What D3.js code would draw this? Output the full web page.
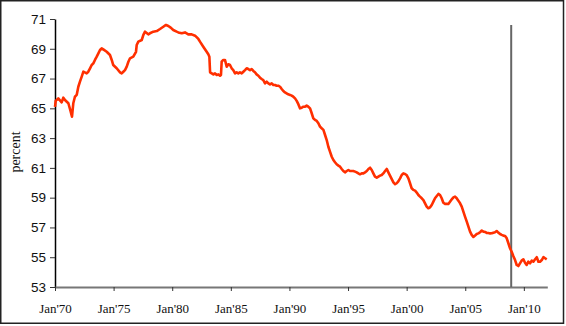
<!DOCTYPE html>
<html>
<head>
<meta charset="utf-8">
<script src="https://cdn.jsdelivr.net/npm/d3@7"></script>
<style>
  body { margin: 0; background: #fff; }
  svg { display: block; }
</style>
</head>
<body>
<svg id="chart" width="566" height="326"></svg>
<script>
// monthly series (decimal years)
var years = [
  1970.00, 1970.06, 1970.28, 1970.57, 1970.71, 1970.85, 1971.14, 1971.34, 1971.45, 1971.56,
  1971.70, 1971.85, 1971.99, 1972.13, 1972.28, 1972.42, 1972.70, 1972.84, 1972.99, 1973.13,
  1973.27, 1973.41, 1973.56, 1973.70, 1973.84, 1973.98, 1974.12, 1974.41, 1974.69, 1974.84,
  1974.97, 1975.26, 1975.55, 1975.69, 1975.83, 1975.97, 1976.12, 1976.26, 1976.40, 1976.68,
  1976.91, 1976.97, 1977.11, 1977.40, 1977.54, 1977.68, 1977.96, 1978.10, 1978.39, 1978.68,
  1978.96, 1979.24, 1979.47, 1979.67, 1979.87, 1980.09, 1980.38, 1980.52, 1980.81, 1981.09,
  1981.37, 1981.66, 1981.95, 1982.23, 1982.37, 1982.65, 1982.94, 1983.08, 1983.17, 1983.23,
  1983.37, 1983.51, 1983.65, 1983.80, 1983.94, 1984.08, 1984.16, 1984.22, 1984.36, 1984.50,
  1984.65, 1984.79, 1984.93, 1985.07, 1985.21, 1985.36, 1985.50, 1985.64, 1985.78, 1985.93,
  1986.07, 1986.21, 1986.35, 1986.49, 1986.64, 1986.78, 1986.92, 1987.06, 1987.20, 1987.35,
  1987.49, 1987.63, 1987.77, 1987.92, 1988.06, 1988.20, 1988.34, 1988.49, 1988.63, 1988.77,
  1988.91, 1989.05, 1989.20, 1989.34, 1989.48, 1989.62, 1989.90, 1990.05, 1990.19, 1990.33,
  1990.48, 1990.62, 1990.76, 1990.90, 1991.05, 1991.19, 1991.33, 1991.47, 1991.61, 1991.76,
  1991.90, 1992.04, 1992.18, 1992.33, 1992.47, 1992.61, 1992.75, 1992.90, 1993.04, 1993.18,
  1993.32, 1993.46, 1993.61, 1993.75, 1993.89, 1994.03, 1994.18, 1994.32, 1994.46, 1994.60,
  1994.74, 1994.89, 1995.03, 1995.17, 1995.45, 1995.60, 1995.74, 1995.88, 1996.02, 1996.17,
  1996.31, 1996.45, 1996.60, 1996.74, 1996.88, 1997.02, 1997.16, 1997.30, 1997.45, 1997.59,
  1997.73, 1997.87, 1998.01, 1998.16, 1998.30, 1998.44, 1998.58, 1998.72, 1998.87, 1999.01,
  1999.15, 1999.29, 1999.44, 1999.58, 1999.72, 1999.86, 2000.00, 2000.15, 2000.29, 2000.43,
  2000.57, 2000.72, 2000.86, 2001.00, 2001.14, 2001.29, 2001.43, 2001.57, 2001.71, 2001.85,
  2002.00, 2002.14, 2002.28, 2002.42, 2002.57, 2002.71, 2002.85, 2002.99, 2003.13, 2003.28,
  2003.56, 2003.70, 2003.85, 2003.99, 2004.13, 2004.27, 2004.41, 2004.56, 2004.70, 2004.84,
  2004.98, 2005.13, 2005.27, 2005.41, 2005.55, 2005.69, 2005.84, 2005.98, 2006.12, 2006.26,
  2006.41, 2006.55, 2006.69, 2006.83, 2006.97, 2007.12, 2007.26, 2007.40, 2007.54, 2007.68,
  2007.82, 2007.97, 2008.11, 2008.25, 2008.40, 2008.54, 2008.68, 2008.82, 2008.96, 2009.10,
  2009.25, 2009.39, 2009.53, 2009.67, 2009.81, 2009.96, 2010.10, 2010.24, 2010.38, 2010.53,
  2010.67, 2010.81, 2010.96, 2011.10, 2011.24, 2011.38, 2011.53, 2011.67, 2011.81, 2011.95
];
var percent = [
  65.10, 65.50, 65.67, 65.40, 65.72, 65.56, 65.34, 64.78, 64.44, 65.34,
  65.78, 65.90, 66.45, 66.79, 67.13, 67.46, 67.35, 67.46, 67.69, 67.91,
  68.02, 68.25, 68.47, 68.69, 68.92, 69.03, 68.96, 68.80, 68.58, 68.25,
  67.91, 67.69, 67.42, 67.35, 67.46, 67.57, 67.80, 68.13, 68.36, 68.47,
  68.80, 69.25, 69.48, 69.59, 69.93, 70.15, 69.97, 70.04, 70.15, 70.19,
  70.33, 70.48, 70.60, 70.53, 70.42, 70.26, 70.15, 70.10, 70.04, 70.10,
  69.97, 69.97, 69.88, 69.66, 69.48, 69.14, 68.80, 68.63, 68.47, 67.42,
  67.35, 67.28, 67.35, 67.24, 67.28, 67.19, 67.24, 68.13, 68.25, 68.25,
  67.80, 67.96, 67.91, 67.69, 67.57, 67.35, 67.42, 67.35, 67.42, 67.35,
  67.46, 67.57, 67.69, 67.64, 67.57, 67.64, 67.51, 67.42, 67.28, 67.19,
  67.06, 66.97, 66.90, 66.68, 66.79, 66.68, 66.61, 66.68, 66.57, 66.57,
  66.52, 66.52, 66.45, 66.30, 66.16, 66.07, 65.94, 65.90, 65.85, 65.78,
  65.67, 65.50, 65.28, 65.00, 65.04, 65.11, 65.11, 65.18, 65.11, 65.00,
  64.67, 64.33, 64.22, 64.15, 64.00, 63.77, 63.66, 63.55, 63.21, 62.87,
  62.42, 62.09, 61.75, 61.53, 61.38, 61.24, 61.15, 61.08, 60.93, 60.79,
  60.70, 60.79, 60.86, 60.79, 60.79, 60.75, 60.70, 60.63, 60.57, 60.63,
  60.63, 60.70, 60.79, 60.93, 61.01, 60.86, 60.63, 60.41, 60.34, 60.41,
  60.48, 60.52, 60.63, 60.79, 60.93, 60.70, 60.48, 60.26, 60.03, 59.90,
  59.97, 60.10, 60.30, 60.52, 60.63, 60.59, 60.52, 60.30, 59.97, 59.63,
  59.52, 59.47, 59.34, 59.18, 59.07, 58.96, 58.84, 58.62, 58.40, 58.29,
  58.35, 58.51, 58.73, 58.96, 59.11, 59.25, 59.18, 58.96, 58.66, 58.58,
  58.58, 58.73, 58.89, 59.02, 59.07, 58.96, 58.80, 58.62, 58.40, 58.06,
  57.73, 57.39, 57.05, 56.72, 56.50, 56.36, 56.46, 56.56, 56.60, 56.68,
  56.79, 56.72, 56.70, 56.63, 56.63, 56.60, 56.61, 56.65, 56.68, 56.76,
  56.65, 56.56, 56.50, 56.45, 56.43, 56.27, 55.94, 55.60, 55.37, 55.08,
  54.81, 54.48, 54.41, 54.59, 54.77, 54.86, 54.63, 54.48, 54.70, 54.59,
  54.77, 54.70, 54.86, 55.00, 54.70, 54.70, 54.81, 55.00, 54.93, 54.86
];

var yTicks = [53, 55, 57, 59, 61, 63, 65, 67, 69, 71];
var xTicks = [1970, 1975, 1980, 1985, 1990, 1995, 2000, 2005, 2010];
var xTickLabels = ["Jan'70", "Jan'75", "Jan'80", "Jan'85", "Jan'90", "Jan'95", "Jan'00", "Jan'05", "Jan'10"];
var markerYear = [2008.92];   // vertical line
var markerTop = [70.6];

var svg = d3.select('#chart');
var plotLeft = 55, plotRight = 547.3, plotTop = 19, plotBottom = 287;

var x = d3.scaleLinear().domain([1970, 2012]).range([plotLeft, plotRight]);
var y = d3.scaleLinear().domain([53, 71]).range([plotBottom, plotTop]);

// outer frame
svg.append('rect')
  .attr('x', 0.75).attr('y', 0.75)
  .attr('width', 562.75).attr('height', 322.5)
  .attr('fill', 'none')
  .attr('stroke', '#222')
  .attr('stroke-width', 1.5);

// y axis
var yAxis = svg.append('g')
  .attr('transform', 'translate(' + plotLeft + ',0)')
  .call(d3.axisLeft(y).tickValues(yTicks).tickSize(5).tickSizeOuter(0).tickPadding(4));
yAxis.select('.domain').attr('stroke', '#000').attr('stroke-width', 1.5);
yAxis.selectAll('.tick line').attr('stroke', '#333');
yAxis.selectAll('.tick text')
  .style('font-family', '"Liberation Sans", Arial, sans-serif')
  .style('font-size', '13.5px')
  .attr('fill', '#111');

// x axis
var xAxis = svg.append('g')
  .attr('transform', 'translate(0,' + plotBottom + ')')
  .call(d3.axisBottom(x).tickValues(xTicks)
    .tickFormat(function(d, i) { return xTickLabels[i]; })
    .tickSize(4).tickSizeOuter(0).tickPadding(13));
xAxis.select('.domain').attr('stroke', '#777').attr('stroke-width', 1.8);
xAxis.selectAll('.tick line').attr('stroke', '#333');
xAxis.selectAll('.tick text')
  .style('font-family', '"Liberation Serif", "Times New Roman", serif')
  .style('font-size', '13px')
  .attr('fill', '#111');

// y label
svg.append('text')
  .attr('transform', 'translate(20,152) rotate(-90)')
  .attr('text-anchor', 'middle')
  .style('font-family', '"Liberation Serif", "Times New Roman", serif')
  .style('font-size', '14px')
  .attr('fill', '#111')
  .text('percent');

// vertical marker
svg.selectAll('.marker')
  .data(markerYear)
  .enter().append('line')
  .attr('class', 'marker')
  .attr('x1', function(d) { return x(d); })
  .attr('x2', function(d) { return x(d); })
  .attr('y1', y(markerTop[0]))
  .attr('y2', plotBottom)
  .attr('stroke', '#666')
  .attr('stroke-width', 2);

// series line
var line = d3.line()
  .x(function(d, i) { return x(years[i]); })
  .y(function(d) { return y(d); });

svg.append('path')
  .datum(percent)
  .attr('d', line)
  .attr('fill', 'none')
  .attr('stroke', '#ff2f00')
  .attr('stroke-width', 2.6)
  .attr('stroke-linejoin', 'round');
</script>
</body>
</html>
